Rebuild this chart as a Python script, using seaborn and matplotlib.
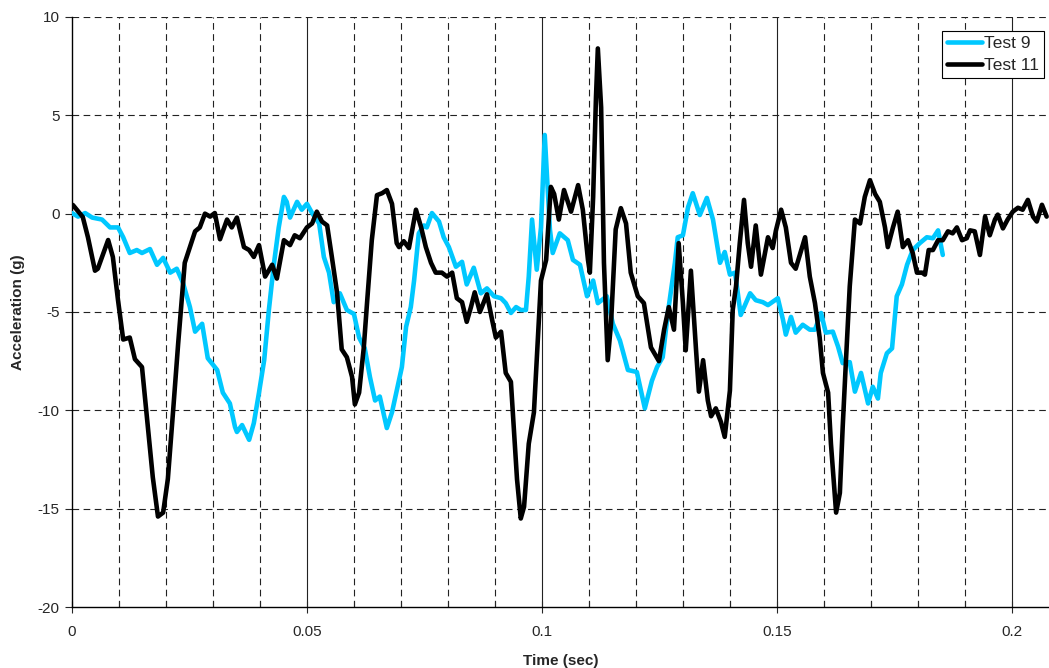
import numpy as np
import pandas as pd
import seaborn as sns
import matplotlib.pyplot as plt
from matplotlib.ticker import MultipleLocator, FormatStrFormatter

# Test 9 (cyan)
t9 = [0.0000, 0.0013, 0.0028, 0.0043, 0.0064, 0.0081, 0.0098, 0.0109, 0.0123, 0.0138,
      0.0149, 0.0166, 0.0181, 0.0194, 0.0209, 0.0223, 0.0236, 0.0251, 0.0262, 0.0277,
      0.0289, 0.0309, 0.0321, 0.0336, 0.0347, 0.0351, 0.0362, 0.0377, 0.0387, 0.0398,
      0.0409, 0.0419, 0.0430, 0.0440, 0.0451, 0.0457, 0.0464, 0.0479, 0.0489, 0.0500,
      0.0511, 0.0526, 0.0536, 0.0547, 0.0557, 0.0570, 0.0585, 0.0600, 0.0611, 0.0623,
      0.0634, 0.0645, 0.0655, 0.0670, 0.0681, 0.0691, 0.0702, 0.0711, 0.0721, 0.0728,
      0.0738, 0.0749, 0.0755, 0.0766, 0.0781, 0.0791, 0.0802, 0.0817, 0.0830, 0.0840,
      0.0855, 0.0870, 0.0883, 0.0898, 0.0913, 0.0923, 0.0934, 0.0945, 0.0955, 0.0966,
      0.0972, 0.0979, 0.0989, 0.0998, 0.1006, 0.1017, 0.1023, 0.1038, 0.1055, 0.1066,
      0.1081, 0.1096, 0.1109, 0.1119, 0.1138, 0.1151, 0.1166, 0.1183, 0.1202, 0.1219,
      0.1234, 0.1245, 0.1257, 0.1268, 0.1283, 0.1289, 0.1300, 0.1311, 0.1321, 0.1336,
      0.1351, 0.1364, 0.1379, 0.1389, 0.1400, 0.1411, 0.1423, 0.1443, 0.1455, 0.1470,
      0.1481, 0.1502, 0.1513, 0.1519, 0.1530, 0.1540, 0.1555, 0.1570, 0.1581, 0.1594,
      0.1604, 0.1619, 0.1630, 0.1640, 0.1655, 0.1666, 0.1679, 0.1694, 0.1704, 0.1715,
      0.1721, 0.1734, 0.1745, 0.1755, 0.1766, 0.1777, 0.1789, 0.1804, 0.1819, 0.1832,
      0.1843, 0.1853]
a9 = [0.03, -0.15, 0.03, -0.2, -0.3, -0.7, -0.7, -1.2, -2.0, -1.85,
      -2.0, -1.8, -2.6, -2.25, -3.0, -2.8, -3.5, -4.75, -6.0, -5.6,
      -7.35, -7.95, -9.1, -9.65, -10.85, -11.1, -10.75, -11.5, -10.65, -9.1,
      -7.45, -4.9, -2.5, -0.7, 0.85, 0.6, -0.2, 0.6, 0.2, 0.5,
      0.03, -0.5, -2.2, -3.0, -4.5, -4.05, -4.9, -5.1, -6.3, -6.85,
      -8.3, -9.5, -9.3, -10.9, -10.1, -9.0, -7.8, -5.75, -4.75, -3.4,
      -1.0, -0.6, -0.7, 0.03, -0.4, -1.2, -1.7, -2.7, -2.45, -3.6,
      -2.75, -4.05, -3.8, -4.2, -4.3, -4.55, -5.05, -4.75, -4.9, -4.9,
      -3.2, -0.3, -2.85, -0.7, 4.0, -0.8, -2.0, -1.0, -1.35, -2.35,
      -2.6, -4.2, -3.4, -4.55, -4.2, -5.6, -6.45, -7.95, -8.05, -9.9,
      -8.5, -7.8, -7.3, -5.05, -2.5, -1.2, -1.1, 0.33, 1.04, -0.07,
      0.8, -0.3, -2.5, -1.95, -3.1, -3.0, -5.15, -4.05, -4.4, -4.5,
      -4.65, -4.3, -5.4, -6.15, -5.25, -6.05, -5.65, -5.9, -5.9, -5.05,
      -6.05, -6.0, -6.75, -7.6, -7.55, -9.05, -8.1, -9.65, -8.8, -9.4,
      -8.1, -7.1, -6.85, -4.2, -3.6, -2.6, -1.85, -1.5, -1.2, -1.25,
      -0.85, -2.1]

# Test 11 (black)
t11 = [0.0002, 0.0023, 0.0034, 0.0049, 0.0055, 0.0077, 0.0087, 0.0098, 0.0109, 0.0123,
       0.0134, 0.0149, 0.0160, 0.0172, 0.0183, 0.0194, 0.0204, 0.0215, 0.0226, 0.0240,
       0.0262, 0.0272, 0.0283, 0.0294, 0.0304, 0.0315, 0.0330, 0.0340, 0.0351, 0.0366,
       0.0377, 0.0387, 0.0398, 0.0411, 0.0426, 0.0436, 0.0451, 0.0464, 0.0474, 0.0485,
       0.0500, 0.0511, 0.0521, 0.0532, 0.0543, 0.0553, 0.0564, 0.0574, 0.0585, 0.0596,
       0.0602, 0.0611, 0.0621, 0.0628, 0.0638, 0.0649, 0.0660, 0.0670, 0.0681, 0.0691,
       0.0696, 0.0706, 0.0717, 0.0732, 0.0743, 0.0753, 0.0764, 0.0774, 0.0787, 0.0798,
       0.0809, 0.0819, 0.0830, 0.0840, 0.0849, 0.0857, 0.0868, 0.0883, 0.0894, 0.0902,
       0.0913, 0.0923, 0.0934, 0.0940, 0.0947, 0.0955, 0.0962, 0.0972, 0.0983, 0.0989,
       0.0998, 0.1009, 0.1019, 0.1026, 0.1036, 0.1047, 0.1062, 0.1077, 0.1087, 0.1098,
       0.1102, 0.1109, 0.1115, 0.1119, 0.1126, 0.1132, 0.1140, 0.1147, 0.1157, 0.1168,
       0.1179, 0.1189, 0.1204, 0.1217, 0.1232, 0.1249, 0.1260, 0.1270, 0.1281, 0.1291,
       0.1300, 0.1306, 0.1317, 0.1328, 0.1334, 0.1343, 0.1353, 0.1360, 0.1370, 0.1381,
       0.1389, 0.1400, 0.1406, 0.1413, 0.1421, 0.1430, 0.1438, 0.1445, 0.1455, 0.1466,
       0.1481, 0.1491, 0.1498, 0.1509, 0.1519, 0.1530, 0.1540, 0.1560, 0.1570, 0.1581,
       0.1591, 0.1598, 0.1609, 0.1615, 0.1626, 0.1634, 0.1640, 0.1647, 0.1655, 0.1666,
       0.1677, 0.1687, 0.1698, 0.1709, 0.1719, 0.1730, 0.1736, 0.1747, 0.1757, 0.1768,
       0.1779, 0.1789, 0.1798, 0.1809, 0.1815, 0.1823, 0.1832, 0.1843, 0.1853, 0.1864,
       0.1874, 0.1883, 0.1894, 0.1904, 0.1911, 0.1921, 0.1932, 0.1943, 0.1953, 0.1964,
       0.1970, 0.1981, 0.1991, 0.2002, 0.2013, 0.2023, 0.2034, 0.2045, 0.2053, 0.2064,
       0.2074]
a11 = [0.44, -0.17, -1.2, -2.9, -2.8, -1.34, -2.2, -4.4, -6.4, -6.3,
       -7.4, -7.8, -10.5, -13.4, -15.4, -15.2, -13.5, -10.1, -6.6, -2.5,
       -0.9, -0.7, 0.0, -0.15, 0.03, -1.3, -0.3, -0.7, -0.2, -1.7,
       -1.85, -2.2, -1.6, -3.2, -2.6, -3.3, -1.35, -1.6, -1.1, -1.25,
       -0.7, -0.5, 0.1, -0.4, -0.6, -2.2, -4.0, -6.9, -7.3, -8.3,
       -9.7, -9.1, -6.8, -4.5, -1.35, 0.94, 1.04, 1.2, 0.5, -1.5,
       -1.7, -1.4, -1.75, 0.2, -0.7, -1.7, -2.5, -3.0, -3.0, -3.2,
       -3.0, -4.3, -4.5, -5.5, -4.75, -4.0, -5.0, -4.1, -5.4, -6.3,
       -6.0, -8.1, -8.55, -10.85, -13.5, -15.5, -14.9, -11.7, -10.1, -7.45,
       -3.4, -2.35, 1.36, 1.0, -0.3, 1.2, 0.1, 1.45, 0.2, -2.35,
       -3.0, 0.85, 5.9, 8.4, 5.4, -2.5, -7.45, -5.6, -0.8, 0.28,
       -0.5, -3.0, -4.2, -4.55, -6.8, -7.5, -5.9, -4.75, -5.9, -1.5,
       -4.55, -6.95, -2.9, -6.95, -9.05, -7.45, -9.5, -10.3, -9.9, -10.6,
       -11.35, -9.0, -4.9, -3.7, -1.5, 0.7, -1.5, -2.7, -0.6, -3.1,
       -1.2, -1.75, -0.85, 0.2, -0.7, -2.5, -2.8, -1.2, -3.2, -4.55,
       -6.3, -8.1, -9.1, -11.7, -15.2, -14.2, -10.85, -7.45, -3.7, -0.3,
       -0.5, 0.85, 1.7, 1.0, 0.6, -0.7, -1.7, -0.7, 0.1, -1.7,
       -1.35, -2.0, -3.0, -3.0, -3.1, -1.85, -1.85, -1.35, -1.35, -0.9,
       -1.0, -0.7, -1.35, -1.25, -0.85, -0.9, -2.1, -0.15, -1.1, -0.3,
       -0.05, -0.75, -0.3, 0.1, 0.3, 0.2, 0.7, -0.15, -0.4, 0.45,
       -0.15]

df = pd.concat([
    pd.DataFrame({'Time (sec)': t9, 'Acceleration (g)': a9, 'series': 'Test 9'}),
    pd.DataFrame({'Time (sec)': t11, 'Acceleration (g)': a11, 'series': 'Test 11'}),
], ignore_index=True)

sns.set_style('white')
plt.rcParams['font.family'] = ['Liberation Sans', 'DejaVu Sans']
plt.rcParams['axes.unicode_minus'] = False

fig = plt.figure(figsize=(10.49, 6.68), dpi=100)
ax = fig.add_axes([0.0686, 0.0913, 0.9314, 0.8833])

ax.set_xlim(0, 0.2079)
ax.set_ylim(-20, 10)

# grid: dashed minor every 0.01, solid at 0.05, dashed horizontals every 5
for x in np.arange(0.01, 0.21, 0.01):
    if abs(x / 0.05 - round(x / 0.05)) < 1e-6:
        ax.axvline(x, color='#222222', lw=0.8, zorder=0.5)
    else:
        ax.axvline(x, color='#222222', lw=0.8, ls=(0, (6, 4)), zorder=0.5)
for y in np.arange(-15, 11, 5):
    ax.axhline(y, color='#222222', lw=0.8, ls=(0, (6, 4)), zorder=0.5)

sns.lineplot(data=df, x='Time (sec)', y='Acceleration (g)', hue='series',
             palette={'Test 9': '#00c8ff', 'Test 11': 'black'},
             hue_order=['Test 9', 'Test 11'],
             sort=False, estimator=None, lw=3.3, ax=ax, zorder=3,
             solid_joinstyle='round', solid_capstyle='round')

ax.xaxis.set_major_locator(MultipleLocator(0.05))
ax.xaxis.set_minor_locator(MultipleLocator(0.01))
ax.xaxis.set_major_formatter(FormatStrFormatter('%g'))
ax.yaxis.set_major_locator(MultipleLocator(5))
ax.tick_params(axis='x', which='major', direction='inout', length=8, width=0.8,
               labelsize=11, pad=9, bottom=True)
ax.tick_params(axis='x', which='minor', direction='in', length=4, width=0.8, bottom=True)
ax.tick_params(axis='y', which='major', direction='out', length=5, width=0.8,
               labelsize=11, left=True, pad=4)

for s in ['top', 'right']:
    ax.spines[s].set_visible(False)
for s in ['left', 'bottom']:
    ax.spines[s].set_color('black')
    ax.spines[s].set_linewidth(1.0)

ax.set_xlabel('Time (sec)', fontsize=11, fontweight='bold', labelpad=11)
ax.set_ylabel('Acceleration (g)', fontsize=11, fontweight='bold', labelpad=9)

leg = ax.legend(loc='upper right', bbox_to_anchor=(0.997, 0.98), fontsize=12.5,
                frameon=True, fancybox=False, edgecolor='black', framealpha=1,
                handlelength=2.0, borderpad=0.3, labelspacing=0.4, handletextpad=0.15,
                borderaxespad=0.1)
leg.get_frame().set_linewidth(0.8)
leg.set_title(None)

fig.savefig('out.png', dpi=100)
